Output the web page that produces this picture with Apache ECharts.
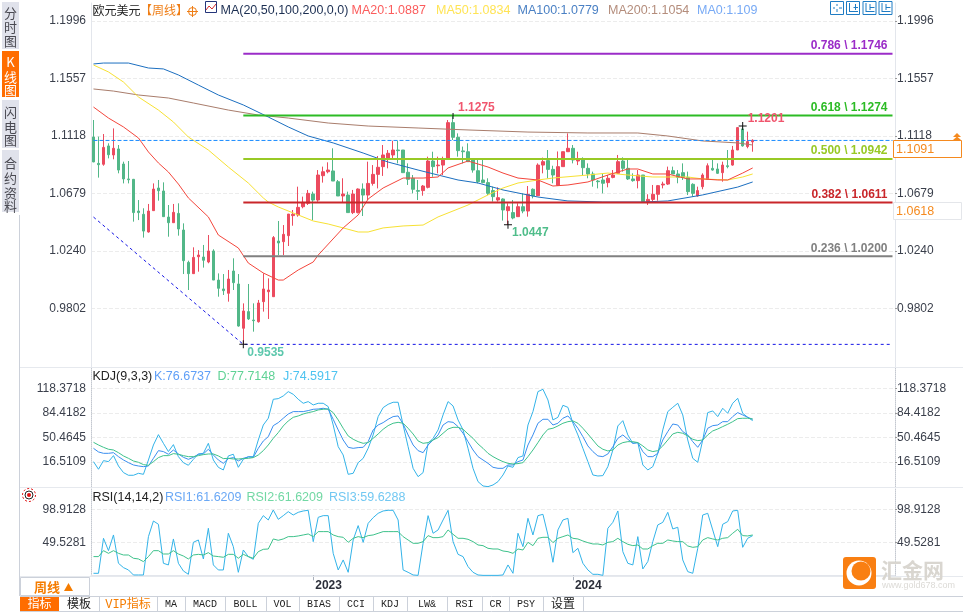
<!DOCTYPE html>
<html>
<head>
<meta charset="utf-8">
<title>欧元美元 周线</title>
<script src="https://cdn.jsdelivr.net/npm/echarts@6/dist/echarts.min.js"></script>
<style>
  html, body { margin: 0; padding: 0; background: #fff; }
  #chart { width: 963px; height: 612px; }
</style>
</head>
<body>
<div id="chart"></div>
<script>
// weekly candles, [open, close, low, high]
const candles = [
  [1.1110,1.0920,1.0918,1.1240],[1.0909,1.0899,1.0800,1.1113],[1.0902,1.1031,1.0891,1.1133],[1.1042,1.0975,1.0947,1.1062],
  [1.0973,1.1024,1.0940,1.1176],[1.1019,1.0858,1.0833,1.1049],[1.0904,1.0790,1.0756,1.0922],[1.0790,1.0784,1.0756,1.0927],
  [1.0787,1.0533,1.0464,1.0790],[1.0545,1.0533,1.0476,1.0629],[1.0520,1.0392,1.0342,1.0566],[1.0385,1.0545,1.0380,1.0599],
  [1.0548,1.0713,1.0548,1.0756],[1.0721,1.0700,1.0624,1.0782],[1.0698,1.0502,1.0502,1.0764],[1.0499,1.0456,1.0349,1.0591],
  [1.0456,1.0535,1.0456,1.0599],[1.0527,1.0408,1.0357,1.0604],[1.0400,1.0166,1.0064,1.0451],[1.0153,1.0067,0.9942,1.0166],
  [1.0067,1.0191,1.0067,1.0268],[1.0196,1.0209,1.0082,1.0247],[1.0194,1.0169,1.0113,1.0286],[1.0156,1.0240,1.0146,1.0362],
  [1.0240,1.0018,1.0018,1.0253],[1.0018,0.9955,0.9891,1.0069],[0.9950,0.9937,0.9904,1.0064],[0.9917,1.0026,0.9853,1.0095],
  [1.0087,0.9998,0.9942,1.0184],[0.9988,0.9667,0.9662,1.0064],[0.9650,0.9782,0.9527,0.9840],[0.9777,0.9721,0.9713,0.9988],
  [0.9713,0.9708,0.9624,0.9840],[0.9700,0.9843,0.9693,0.9866],[0.9853,0.9950,0.9777,1.0069],[0.9929,0.9942,0.9721,1.0031],
  [0.9891,1.0342,0.9891,1.0354],[1.0316,1.0301,1.0209,1.0469],[1.0311,1.0367,1.0209,1.0438],[1.0357,1.0522,1.0278,1.0522],
  [1.0510,1.0520,1.0433,1.0553],[1.0515,1.0573,1.0502,1.0731],[1.0578,1.0611,1.0566,1.0655],[1.0604,1.0680,1.0591,1.0706],
  [1.0675,1.0629,1.0476,1.0693],[1.0629,1.0820,1.0616,1.0858],[1.0815,1.0845,1.0762,1.0884],[1.0845,1.0858,1.0833,1.0917],
  [1.0851,1.0774,1.0774,1.1024],[1.0769,1.0660,1.0660,1.0782],[1.0660,1.0675,1.0609,1.0795],[1.0667,1.0533,1.0533,1.0693],
  [1.0533,1.0675,1.0522,1.0706],[1.0533,1.0713,1.0527,1.0718],[1.0713,1.0667,1.0507,1.0756],[1.0667,1.0756,1.0629,1.0922],
  [1.0756,1.0825,1.0739,1.0896],[1.0825,1.0879,1.0718,1.0965],[1.0884,1.0973,1.0813,1.1049],[1.0947,1.0986,1.0871,1.1011],
  [1.0973,1.1011,1.0935,1.1082],[1.1011,1.1006,1.0909,1.1082],[1.1011,1.0838,1.0838,1.1011],[1.0841,1.0787,1.0744,1.0909],
  [1.0795,1.0711,1.0680,1.0820],[1.0701,1.0696,1.0629,1.0782],[1.0701,1.0736,1.0662,1.0744],[1.0726,1.0927,1.0718,1.0960],
  [1.0927,1.0884,1.0807,1.0998],[1.0891,1.0896,1.0833,1.0960],[1.0896,1.0940,1.0820,1.0960],[1.0947,1.1220,1.0940,1.1240],
  [1.1220,1.1108,1.1087,1.1270],[1.1108,1.1006,1.0960,1.1138],[1.1004,1.0998,1.0909,1.1037],[1.0998,1.0922,1.0922,1.1062],
  [1.0935,1.0858,1.0838,1.0935],[1.0853,1.0769,1.0757,1.0935],[1.0782,1.0762,1.0757,1.0935],[1.0762,1.0680,1.0667,1.0795],
  [1.0701,1.0655,1.0617,1.0731],[1.0629,1.0647,1.0617,1.0726],[1.0637,1.0553,1.0472,1.0642],[1.0548,1.0578,1.0440,1.0604],
  [1.0533,1.0492,1.0482,1.0629],[1.0502,1.0578,1.0502,1.0604],[1.0578,1.0545,1.0528,1.0680],[1.0545,1.0673,1.0502,1.0736],
  [1.0711,1.0660,1.0642,1.0718],[1.0662,1.0896,1.0660,1.0909],[1.0896,1.0922,1.0833,1.0953],[1.0930,1.0863,1.0795,1.1011],
  [1.0863,1.0820,1.0757,1.0891],[1.0741,1.0884,1.0736,1.1000],[1.0884,1.0998,1.0884,1.0998],[1.0998,1.1024,1.0998,1.1138],
  [1.1024,1.0935,1.0909,1.1049],[1.0927,1.0935,1.0896,1.0998],[1.0935,1.0876,1.0820,1.0955],[1.0871,1.0828,1.0795,1.0909],
  [1.0828,1.0782,1.0731,1.0846],[1.0774,1.0769,1.0718,1.0782],[1.0782,1.0757,1.0680,1.0833],[1.0762,1.0795,1.0726,1.0820],
  [1.0802,1.0820,1.0795,1.0858],[1.0833,1.0922,1.0828,1.0973],[1.0927,1.0871,1.0846,1.0955],[1.0871,1.0790,1.0782,1.0935],
  [1.0790,1.0777,1.0769,1.0833],[1.0777,1.0820,1.0718,1.0858],[1.0820,1.0617,1.0617,1.0820],[1.0617,1.0634,1.0591,1.0673],
  [1.0634,1.0673,1.0617,1.0744],[1.0673,1.0739,1.0624,1.0744],[1.0744,1.0751,1.0718,1.0769],[1.0751,1.0853,1.0744,1.0884],
  [1.0853,1.0828,1.0828,1.0884],[1.0828,1.0802,1.0757,1.0858],[1.0838,1.0802,1.0782,1.0909],[1.0802,1.0693,1.0667,1.0846],
  [1.0749,1.0680,1.0655,1.0757],[1.0660,1.0701,1.0655,1.0731],[1.0731,1.0820,1.0711,1.0833],[1.0787,1.0891,1.0782,1.0909],
  [1.0871,1.0858,1.0853,1.0935],[1.0866,1.0833,1.0828,1.0909],[1.0838,1.0896,1.0769,1.0922],[1.0891,1.0884,1.0871,1.1011],
  [1.0896,1.1011,1.0891,1.1042],[1.1011,1.1182,1.1011,1.1185],[1.1172,1.1042,1.1037,1.1194],[1.1037,1.1075,1.1024,1.1151],
  [1.1073,1.1085,1.0998,1.1093]
];

// moving averages, [week index, price], only the points
const ma20 = [[0,1.1339],[3,1.1255],[6,1.1187],[9,1.1103],[11,1.0996],[13,1.0912],[15,1.0843],[17,1.0751],[19,1.0645],[23,1.0500],[25,1.0362],[29,1.0263],[31,1.0148],[34,1.0072],[37,1.0018],[38,1.0018],[41,1.0095],[44,1.0156],[45,1.0209],[50,1.0416],[53,1.0515],[55,1.0637],[58,1.0721],[62,1.0797],[66,1.0797],[69,1.0805],[71,1.0874],[75,1.0927],[79,1.0881],[82,1.0835],[85,1.0797],[89,1.0782],[92,1.0736],[95,1.0744],[99,1.0767],[103,1.0820],[107,1.0866],[109,1.0866],[112,1.0828],[115,1.0828],[119,1.0790],[122,1.0790],[125,1.0782],[127,1.0782],[130,1.0835],[132,1.0874]];
const ma50 = [[0,1.1660],[3,1.1607],[6,1.1530],[9,1.1416],[13,1.1316],[16,1.1225],[19,1.1110],[23,1.1011],[27,1.0881],[31,1.0759],[34,1.0645],[35,1.0614],[37,1.0576],[41,1.0515],[44,1.0469],[47,1.0446],[50,1.0416],[53,1.0385],[55,1.0385],[58,1.0416],[62,1.0431],[66,1.0438],[69,1.0500],[75,1.0591],[79,1.0668],[82,1.0721],[85,1.0759],[89,1.0782],[92,1.0797],[99,1.0820],[103,1.0835],[107,1.0820],[112,1.0805],[119,1.0805],[122,1.0790],[127,1.0782],[130,1.0805],[132,1.0828]];
const ma100 = [[0,1.1668],[2,1.1675],[7,1.1675],[11,1.1637],[14,1.1630],[17,1.1584],[21,1.1507],[25,1.1431],[30,1.1355],[35,1.1263],[39,1.1187],[43,1.1118],[48,1.1065],[54,1.0988],[59,1.0919],[65,1.0858],[69,1.0820],[73,1.0782],[77,1.0759],[82,1.0706],[89,1.0652],[95,1.0622],[102,1.0614],[110,1.0614],[115,1.0622],[122,1.0668],[129,1.0728],[132,1.0767]];
const ma200 = [[0,1.1477],[4,1.1461],[9,1.1431],[15,1.1408],[20,1.1370],[27,1.1316],[33,1.1278],[39,1.1255],[47,1.1217],[55,1.1194],[65,1.1179],[75,1.1164],[87,1.1148],[99,1.1141],[109,1.1141],[115,1.1118],[122,1.1080],[129,1.1065],[132,1.1049]];

// KDJ panel
const kdjK = [35.5,30.5,28.6,28.6,29.5,24.0,19.4,15.7,12.5,11.1,10.2,11.1,21.7,32.3,31.0,27.3,33.2,27.7,23.1,20.3,23.1,27.3,27.7,34.2,26.3,19.4,14.8,21.3,22.7,18.0,21.7,23.6,23.1,35.5,45.6,51.6,66.8,71.0,77.0,82.9,86.2,86.2,86.2,87.6,89.4,89.8,90.8,89.4,75.6,60.9,47.0,36.9,35.5,36.5,36.9,44.7,60.9,67.7,71.0,75.6,79.3,80.2,69.1,54.0,40.1,32.3,29.5,40.1,47.0,54.0,67.7,72.3,71.4,65.5,56.3,44.7,33.2,24.0,
  19.4,14.8,9.3,7.9,7.9,12.5,12.5,17.1,19.4,40.1,54.0,70.1,75.6,75.6,67.7,70.1,77.0,80.2,72.3,63.2,51.6,38.8,31.0,25.0,24.0,27.7,37.8,49.3,54.0,48.0,42.4,43.4,31.0,24.0,24.0,28.6,47.0,58.6,69.1,67.7,58.6,54.0,44.7,36.9,47.0,63.2,66.8,67.7,72.3,72.3,79.3,84.8,81.6,78.3,75.6];
const kdjD = [43.8,40.1,36.9,34.2,33.2,29.5,25.0,21.7,18.0,16.2,13.0,12.1,17.1,22.7,25.4,25.4,28.2,27.3,25.4,24.0,24.0,25.4,26.8,27.7,27.7,25.0,21.3,21.7,20.8,20.8,21.3,21.7,22.7,26.3,32.3,40.1,49.3,57.2,66.4,73.3,78.3,80.2,82.9,84.8,86.2,88.5,89.4,89.8,84.8,74.7,63.2,52.6,48.0,44.7,42.4,43.4,49.3,55.3,61.8,66.8,70.1,71.4,70.1,63.2,55.3,45.7,42.4,43.4,47.0,50.3,56.3,62.2,64.5,64.5,61.8,55.3,49.3,41.5,
  35.5,28.6,24.0,20.3,17.1,14.8,13.9,14.4,15.7,24.0,33.2,43.4,54.0,61.8,63.2,66.4,70.1,72.3,73.3,70.1,63.2,55.3,47.0,38.8,34.2,31.9,33.2,40.1,43.4,44.7,44.7,43.4,38.8,33.2,31.0,32.3,38.8,47.0,55.3,57.6,56.3,52.6,48.0,46.1,47.0,54.0,59.5,62.2,65.5,68.7,72.3,76.5,77.0,77.0,76.0];
const kdjJ = [17.1,6.6,18.5,17.1,25.4,11.1,2.0,-1.7,-1.7,1.0,-0.4,19.4,40.1,54.4,42.4,31.0,40.6,24.0,15.7,12.1,20.3,27.7,28.6,42.4,19.4,9.3,5.6,25.0,27.3,9.3,20.3,24.0,24.0,47.0,67.7,77.0,103.2,104.1,107.8,113.8,110.1,103.2,97.7,100.0,95.4,97.7,97.7,93.1,67.7,37.8,26.3,-0.4,1.0,15.7,21.7,35.5,54.0,79.3,91.7,96.3,99.1,99.1,67.7,37.8,7.9,-3.6,2.0,42.4,49.3,60.9,81.6,100.0,94.0,74.7,60.9,35.5,7.9,-10.5,
  -16.5,-17.4,-15.1,-10.5,-1.3,11.1,9.3,22.7,25.0,67.7,86.2,113.8,117.0,102.3,74.7,78.3,94.9,92.1,70.1,54.0,35.5,17.1,-1.3,-2.7,-2.2,10.2,33.2,66.4,73.7,54.0,42.4,43.4,12.5,5.6,10.2,28.6,60.9,86.2,92.1,97.7,81.6,47.0,21.7,16.2,47.0,84.8,87.1,79.3,90.8,83.9,97.7,104.6,83.9,78.3,73.7];

// RSI panel
const rsiFast = [3.1,3.1,55.5,37.0,60.5,18.1,11.6,8.1,0.6,0.6,0.6,58.0,81.4,76.5,18.1,15.6,54.5,18.1,6.6,1.6,49.5,53.0,24.6,70.5,15.6,8.1,8.1,63.0,43.0,4.6,38.0,28.1,24.1,77.9,89.4,82.9,97.9,83.9,89.4,95.4,90.4,94.4,96.4,97.4,50.5,86.9,89.4,89.4,33.0,8.1,23.1,4.6,53.0,74.5,49.5,77.9,86.4,92.9,96.4,97.4,97.4,82.9,8.1,4.6,0.6,0,48.0,89.4,63.0,68.0,82.9,97.4,50.5,31.5,28.1,13.1,4.6,0.6,
  0,0,0,0,0.6,15.6,3.1,63.0,43.0,85.4,60.5,89.4,91.4,60.5,19.6,68.0,82.9,85.4,34.0,40.5,18.1,8.1,1.6,1.6,0,70.5,79.4,96.4,35.5,18.1,15.6,58.0,9.6,20.6,50.5,75.5,79.4,94.4,69.5,72.0,23.1,5.6,3.1,40.5,90.4,92.9,68.0,43.0,76.5,80.5,96.4,97.4,42.0,55.5,59.5];
const rsiSlow = [28.1,28.1,37.0,33.0,37.0,33.0,30.5,30.5,25.6,24.6,20.6,28.1,37.0,37.0,32.0,32.0,37.0,32.0,29.0,24.6,30.5,31.5,30.5,34.0,29.0,28.1,27.1,31.5,31.5,25.6,31.5,28.1,25.6,35.5,39.0,39.5,54.5,52.5,54.5,58.0,58.0,59.0,60.5,62.0,58.0,65.5,65.5,65.5,60.5,58.0,57.0,49.5,55.5,58.0,56.5,59.5,60.5,63.0,65.5,65.5,65.5,65.5,58.0,53.0,48.0,48.0,50.5,59.5,56.5,56.5,58.0,68.0,61.5,55.5,55.5,54.0,50.5,45.5,
  44.5,40.5,39.5,39.5,36.5,35.5,33.0,39.5,38.0,49.5,44.5,55.5,57.0,57.0,49.0,55.5,58.0,60.5,55.5,54.5,51.5,49.0,47.0,47.0,45.5,49.5,50.5,55.5,50.5,46.5,44.5,45.5,39.5,39.5,44.5,48.0,48.0,53.0,51.5,50.5,50.5,44.0,42.0,43.0,53.0,56.5,54.5,53.0,55.5,56.5,63.0,69.0,59.5,59.0,60.5];

// tick labels of the three value axes
const mainTicks = [1.1996, 1.1557, 1.1118, 1.0679, 1.0240, 0.9802];
const kdjTicks = [118.3718, 84.4182, 50.4645, 16.5109];
const rsiTicks = [98.9128, 49.5281];

// fibonacci levels, drawn from the low week to the right edge
const fibRatios = ['0.786', '0.618', '0.500', '0.382', '0.236'];
const fibValues = [1.1746, 1.1274, 1.0942, 1.0611, 1.0200];
const fibColors = ['#9b2cc8', '#2cbb25', '#98c925', '#c9262a', '#808080'];

// marked highs and lows
const extremeWeeks = [30, 72, 83, 130];
const extremeTexts = ['0.9535', '1.1275', '1.0447', '1.1201'];

const lowWeek = 30;
const lastSlot = 160;
const trendStart = 1.0499;
const lastPrice = 1.1084;
const priceBoxes = ['1.1091', '1.0618'];

// weekly categories, the free space right of the last candle included
const weeks = [];
const day0 = Date.UTC(2022, 1, 28);
for (let i = 0; i <= lastSlot; i++) {
  weeks.push(new Date(day0 + i * 7 * 86400000).toISOString().slice(0, 10));
}
// only years inside the candle range get a label
const isYearStart = (i) => i > 0 && i < candles.length && weeks[i].slice(0, 4) !== weeks[i - 1].slice(0, 4);

const font = '"Liberation Sans", Arial, "Noto Sans CJK SC", sans-serif';
const cjk = '"Noto Sans CJK SC", sans-serif';
const mono = '"Liberation Mono", "Noto Sans CJK SC", monospace';
const axisText = '#3a3f4b';

const grids = [
  { left: 91, width: 804, top: 3, height: 364 },
  { left: 91, width: 804, top: 368, height: 119 },
  { left: 91, width: 804, top: 488, height: 88 }
];

function xAxisFor(gridIndex, withLabels) {
  return {
    type: 'category',
    gridIndex,
    data: weeks,
    boundaryGap: true,
    axisLine: { show: withLabels, lineStyle: { color: '#e3e6ec' } },
    axisTick: {
      show: withLabels,
      length: 5,
      interval: (i) => isYearStart(i),
      alignWithLabel: true,
      lineStyle: { color: '#aab0bb' }
    },
    axisLabel: {
      show: withLabels,
      interval: (i) => isYearStart(i),
      formatter: (v) => v.slice(0, 4),
      align: 'left',
      margin: 4,
      padding: [0, 0, 0, 2],
      color: '#2c2f3a',
      fontFamily: font,
      fontWeight: 'bold',
      fontSize: 12
    },
    splitLine: { show: false }
  };
}

function yAxisFor(gridIndex, position, min, max, ticks, digits, solidLine) {
  const isLeft = position === 'left';
  return {
    type: 'value',
    gridIndex,
    position,
    min,
    max,
    scale: true,
    axisLine: {
      show: true,
      lineStyle: solidLine
        ? { color: '#e3e6ec' }
        : { color: '#c4c8d0', type: 'dotted' }
    },
    axisTick: { show: !isLeft, customValues: ticks, length: 2, lineStyle: { color: '#999' } },
    axisLabel: {
      customValues: ticks,
      formatter: (v) => v.toFixed(digits),
      color: axisText,
      fontFamily: font,
      fontSize: 12,
      margin: isLeft ? 5 : 2,
      showMinLabel: true,
      showMaxLabel: true
    },
    splitLine: {
      show: isLeft,
      lineStyle: { color: '#ececec', type: 'dashed' }
    }
  };
}

function thinLine(name, data, color, xAxisIndex, yAxisIndex) {
  return {
    name,
    type: 'line',
    data,
    xAxisIndex,
    yAxisIndex,
    showSymbol: false,
    symbol: 'none',
    smooth: false,
    silent: true,
    lineStyle: { color, width: 1 }
  };
}

const plusSymbol = 'path://M0 3.5H8V4.5H0ZM3.5 0H4.5V8H3.5Z';
const extremePoints = extremeWeeks.map((week, k) => {
  const isLow = k === 0 || k === 2;
  const price = isLow ? candles[week][2] : candles[week][3];
  return {
    coord: [week, price],
    // the top at 1.1275 only shows a black tip on the wick
    symbol: k === 1 ? 'rect' : plusSymbol,
    symbolSize: k === 1 ? [1, 6] : 8,
    label: {
      show: true,
      formatter: extremeTexts[k],
      position: 'inside',
      align: 'left',
      offset: isLow ? [4, 8] : k === 1 ? [5, -8] : [5, -7],
      color: k === 0 ? '#5cc7ac' : isLow ? '#4fbd8a' : '#f0566e',
      fontFamily: font,
      fontWeight: 'bold',
      fontSize: 12
    }
  };
});

const series = [
  {
    name: 'K',
    type: 'candlestick',
    data: candles,
    xAxisIndex: 0,
    yAxisIndex: 0,
    barWidth: 3,
    silent: true,
    itemStyle: {
      color: '#ec4b5f',
      color0: '#52b788',
      borderColor: '#ec4b5f',
      borderColor0: '#52b788',
      borderWidth: 1
    },
    markPoint: {
      symbol: plusSymbol,
      symbolSize: 8,
      silent: true,
      animation: false,
      itemStyle: { color: '#111' },
      data: extremePoints
    }
  },
  thinLine('MA200', ma200, '#a97d6c', 0, 0),
  thinLine('MA100', ma100, '#1c6fc0', 0, 0),
  thinLine('MA50', ma50, '#f7e133', 0, 0),
  thinLine('MA20', ma20, '#f4463c', 0, 0),
  {
    name: 'MA0',
    type: 'line',
    data: [[0, lastPrice], [lastSlot, lastPrice]],
    showSymbol: false,
    silent: true,
    lineStyle: { color: '#1a8cff', width: 1, type: [4, 2] }
  },
  {
    name: 'trend',
    type: 'line',
    data: [[0, trendStart], [lowWeek, candles[lowWeek][2]], [lastSlot, candles[lowWeek][2]]],
    showSymbol: false,
    silent: true,
    lineStyle: { color: '#1414e6', width: 1, type: [3, 3] }
  },
  ...fibValues.map((value, k) => ({
    name: fibRatios[k],
    type: 'line',
    data: [[lowWeek, value], [lastSlot, value]],
    showSymbol: false,
    silent: true,
    lineStyle: { color: fibColors[k], width: 2 },
    endLabel: {
      show: true,
      formatter: fibRatios[k] + ' \\ ' + value.toFixed(4),
      align: 'right',
      distance: 0,
      offset: [-5, -8],
      color: fibColors[k],
      fontFamily: font,
      fontWeight: 'bold',
      fontSize: 12
    }
  })),
  thinLine('J', kdjJ, '#33b3e8', 1, 2),
  thinLine('K', kdjK, '#3a8ff0', 1, 2),
  thinLine('D', kdjD, '#3ec28b', 1, 2),
  thinLine('RSI1', rsiFast, '#33b3e8', 2, 4),
  thinLine('RSI3', rsiSlow, '#3ec28b', 2, 4)
];

// everything around the plot: tabs, legends, price boxes, logo
const g = [];
function text(x, y, str, fill, size, extra) {
  g.push({
    type: 'text',
    x, y,
    silent: true,
    z: 20,
    style: Object.assign({
      text: str,
      fill,
      fontSize: size,
      fontFamily: font,
      verticalAlign: 'middle',
      align: 'left'
    }, extra || {})
  });
}
function box(x, y, width, height, fill, stroke) {
  g.push({
    type: 'rect',
    silent: true,
    z: 15,
    shape: { x, y, width, height },
    style: { fill: fill || 'none', stroke: stroke || 'none', lineWidth: 1 }
  });
}
function segment(x1, y1, x2, y2, stroke) {
  g.push({
    type: 'line',
    silent: true,
    z: 16,
    shape: { x1, y1, x2, y2 },
    style: { stroke, lineWidth: 1 }
  });
}

// panel frame
segment(20, 367.5, 963, 367.5, '#e6e9ee');
segment(20, 487.5, 963, 487.5, '#e6e9ee');
segment(20, 576.5, 963, 576.5, '#e6e9ee');
segment(19.5, 215, 19.5, 596, '#ccd1da');
segment(20, 596.5, 963, 596.5, '#ccd1da');
segment(20, 611.5, 963, 611.5, '#ccd1da');

// left rail
const railTabs = [
  { y: 2, h: 47, chars: ['分', '时', '图'], rows: [13, 27, 41] },
  { y: 51, h: 46, chars: ['K', '线', '图'], rows: [62, 77, 90], on: true },
  { y: 100, h: 48, chars: ['闪', '电', '图'], rows: [112, 127, 140] },
  { y: 150, h: 62, chars: ['合', '约', '资', '料'], rows: [163, 178, 193, 206] }
];
railTabs.forEach((tab) => {
  box(2, tab.y, 17, tab.h, tab.on ? '#ff6d00' : '#e0e2eb');
  tab.chars.forEach((ch, k) => {
    text(10.5, tab.rows[k], ch, tab.on ? '#fff' : '#4a4a52', 13, { align: 'center', fontFamily: cjk });
  });
});

// main legend
text(92.5, 10.5, '欧元美元', '#222', 12, { fontFamily: cjk });
text(140, 10.5, '【周线】', '#ef7d14', 12, { fontFamily: cjk });
g.push({ type: 'circle', silent: true, z: 20, shape: { cx: 192.5, cy: 11.5, r: 4 }, style: { fill: 'none', stroke: '#ef7d14' } });
segment(187, 11.5, 198, 11.5, '#ef7d14');
segment(192.5, 6, 192.5, 17, '#ef7d14');
box(205.5, 1.5, 11, 11, '#fff', '#24357a');
g.push({ type: 'polyline', silent: true, z: 20, shape: { points: [[206, 10], [209, 6], [212, 9], [216, 4]] }, style: { stroke: '#d62b2b', fill: 'none' } });
text(220.5, 10.5, 'MA(20,50,100,200,0,0)', '#1c2f52', 12.5);
text(351.5, 10.5, 'MA20:1.0887', '#fb5c5c', 12.5);
text(436, 10.5, 'MA50:1.0834', '#ffe455', 12.5);
text(517.5, 10.5, 'MA100:1.0779', '#4a80c4', 12.5);
text(608, 10.5, 'MA200:1.1054', '#b48d7c', 12.5);
text(697, 10.5, 'MA0:1.109', '#78aaf5', 12.5);

// toolbar icons
[830, 846, 862.5, 878.5].forEach((x, k) => {
  box(x + 0.5, 1.5, 13, 13, '#fff', '#1f7cc4');
  if (k === 0) {
    segment(x + 7, 4, x + 7, 6, '#1f7cc4');
    segment(x + 7, 9, x + 7, 12, '#1f7cc4');
    segment(x + 3, 8, x + 5, 8, '#1f7cc4');
    segment(x + 9, 8, x + 12, 8, '#1f7cc4');
  } else {
    segment(x + 3.5, 3, x + 3.5, 12, '#1f7cc4');
    segment(x + 3.5, 11.5, x + 12, 11.5, '#1f7cc4');
    segment(x + (k === 1 ? 9.5 : 7.5), 4, x + (k === 1 ? 9.5 : 7.5), 10, '#1f7cc4');
    segment(x + 7.5, 7.5, x + 12, 7.5, '#1f7cc4');
  }
});

// price boxes on the right axis
box(893.5, 140.5, 68, 17, '#fff', '#f58a1f');
text(896, 149.5, priceBoxes[0], '#f58a1f', 12.5);
box(893.5, 202.5, 68, 17, '#fff', '#e4e6ea');
text(896, 211.5, priceBoxes[1], '#f58a1f', 12.5);
g.push({ type: 'polygon', silent: true, z: 20, shape: { points: [[953, 137], [957, 133], [961, 137]] }, style: { fill: '#f58a1f' } });
g.push({ type: 'polygon', silent: true, z: 20, shape: { points: [[953, 140], [957, 136.5], [961, 140]] }, style: { fill: '#f58a1f' } });

// KDJ legend
text(92.5, 376.5, 'KDJ(9,3,3)', '#222', 12.5);
text(154, 376.5, 'K:76.6737', '#5f9ff7', 12.5);
text(217.5, 376.5, 'D:77.7148', '#5fd295', 12.5);
text(283, 376.5, 'J:74.5917', '#4dc3f0', 12.5);

// RSI legend and the small sun icon
g.push({ type: 'circle', silent: true, z: 20, shape: { cx: 29, cy: 495, r: 2 }, style: { fill: '#e01010' } });
g.push({ type: 'circle', silent: true, z: 20, shape: { cx: 29, cy: 495, r: 4 }, style: { fill: 'none', stroke: '#222' } });
g.push({ type: 'circle', silent: true, z: 20, shape: { cx: 29, cy: 495, r: 6.5 }, style: { fill: 'none', stroke: '#e01010', lineDash: [2, 2] } });
text(92.5, 497.5, 'RSI(14,14,2)', '#222', 12.5);
text(165, 497.5, 'RSI1:61.6209', '#6aa8f5', 12.5);
text(246.5, 497.5, 'RSI2:61.6209', '#72d8a4', 12.5);
text(329, 497.5, 'RSI3:59.6288', '#72c8f2', 12.5);

// period switch under the axes
box(20.5, 577.5, 69, 18, '#fff', '#ccd1da');
text(34, 587, '周线', '#f57c00', 13, { fontFamily: cjk, fontWeight: 'bold' });
g.push({ type: 'polygon', silent: true, z: 20, shape: { points: [[64, 591], [68.5, 583], [73, 591]] }, style: { fill: '#f57c00' } });

// bottom tab row
const tabLabels = ['指标', '模板', 'VIP指标', 'MA', 'MACD', 'BOLL', 'VOL', 'BIAS', 'CCI', 'KDJ', 'LW&', 'RSI', 'CR', 'PSY', '设置'];
const tabEdges = [20, 59, 99, 157, 185, 225, 266, 299, 339, 373, 407, 447, 482, 509, 543, 583];
tabLabels.forEach((label, k) => {
  const x0 = tabEdges[k];
  const x1 = tabEdges[k + 1];
  if (k === 0) box(x0, 597, x1 - x0, 14, '#ff6d00');
  else segment(x1 + 0.5, 597, x1 + 0.5, 611, '#ccd1da');
  const color = k === 0 ? '#fff' : k === 2 ? '#f57c00' : '#222';
  text((x0 + x1) / 2, 604.5, label, color, k < 3 || k === 14 ? 12 : 10, { align: 'center', fontFamily: mono });
});

// watermark logo
g.push({ type: 'rect', silent: true, z: 18, shape: { x: 843, y: 557, width: 33, height: 32, r: 3 }, style: { fill: '#f97f12' } });
g.push({ type: 'circle', silent: true, z: 19, shape: { cx: 859, cy: 573, r: 12.5 }, style: { fill: '#fff' } });
g.push({ type: 'circle', silent: true, z: 19, shape: { cx: 861, cy: 571, r: 9.5 }, style: { fill: '#f97f12' } });
text(881, 570, '汇金网', '#d9d6d0', 21, { fontFamily: cjk, fontWeight: 'bold' });
text(882, 586, 'www.gold678.com', '#dcdad6', 9);

const chart = echarts.init(document.getElementById('chart'), null, { renderer: 'canvas' });
chart.setOption({
  animation: false,
  backgroundColor: '#fff',
  grid: grids,
  xAxis: [xAxisFor(0, false), xAxisFor(1, false), xAxisFor(2, true)],
  yAxis: [
    yAxisFor(0, 'left', 0.93542, 1.21334, mainTicks, 4, true),
    yAxisFor(0, 'right', 0.93542, 1.21334, mainTicks, 4, true),
    yAxisFor(1, 'left', -17.9, 146.4, kdjTicks, 4, false),
    yAxisFor(1, 'right', -17.9, 146.4, kdjTicks, 4, false),
    yAxisFor(2, 'left', -0.94, 130.8, rsiTicks, 4, false),
    yAxisFor(2, 'right', -0.94, 130.8, rsiTicks, 4, false)
  ],
  series,
  graphic: g
});
</script>
</body>
</html>
